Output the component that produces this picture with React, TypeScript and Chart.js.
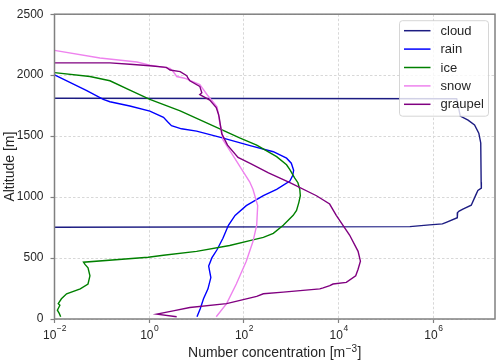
import React, { useEffect, useRef } from "react";
import { Chart, registerables } from "chart.js";

Chart.register(...registerables);

const FONT = '"Liberation Sans", Arial, sans-serif';

const seriesNames = ["cloud", "rain", "ice", "snow", "graupel"];
const seriesColors = ["#1c1c82", "#0000ff", "#008000", "#ee82ee", "#800080"];

// x ticks (log) and their exponent labels
const xTickValues = [1e-2, 1, 1e2, 1e4, 1e6];
const xTickExps = ["\u22122", "0", "2", "4", "6"];
const yTickStep = 500;

// cloud
const cloudAlt = [1810, 1806, 1664, 1631, 1591, 1524, 1444, 1121, 1073, 1054, 1014, 933, 901, 885, 873, 831, 793, 780, 772, 758, 752];
const cloudConc = [0.01, 3.1e6, 3.7e6, 5.4e6, 7.4e6, 9.1e6, 1.0e7, 1.02e7, 1.03e7, 8.7e6, 7.8e6, 6.3e6, 4.2e6, 3.5e6, 3.25e6, 3.2e6, 1.87e6, 1.55e6, 8.3e5, 3.2e5, 0.01];

// rain
const rainAlt = [2002, 1873, 1801, 1782, 1747, 1705, 1654, 1614, 1586, 1560, 1541, 1490, 1420, 1372, 1319, 1278, 1220, 1176, 1131, 1064, 1011, 930, 850, 769, 662, 568, 501, 434, 340, 247, 166, 86, 18];
const rainConc = [0.01, 0.048, 0.107, 0.148, 0.39, 1.03, 2.0, 2.5, 2.95, 4.8, 10, 32, 141, 417, 794, 1000, 1120, 1070, 933, 490, 257, 112, 65, 47, 36, 27, 21, 18, 20, 17.4, 14, 12, 10.2];

// ice
const iceAlt = [2021, 1989, 1954, 1878, 1801, 1707, 1560, 1485, 1426, 1332, 1265, 1225, 1158, 1118, 1064, 1011, 957, 890, 850, 769, 702, 670, 649, 603, 555, 523, 507, 466, 448, 420, 354, 287, 247, 207, 166, 126, 113, 72, 46, 18];
const iceConc = [0.01, 0.056, 0.148, 0.39, 1.03, 4.5, 31, 81, 186, 490, 794, 933, 1175, 1380, 1510, 1550, 1445, 1290, 1096, 676, 417, 257, 155, 50, 10, 2.0, 0.95, 0.041, 0.044, 0.051, 0.056, 0.051, 0.035, 0.018, 0.014, 0.012, 0.013, 0.0115, 0.0126, 0.0135];

// snow
const snowAlt = [2203, 2141, 2108, 2082, 2056, 2029, 2010, 1989, 1975, 1922, 1835, 1775, 1740, 1680, 1600, 1540, 1470, 1359, 1198, 1125, 1064, 930, 769, 635, 474, 287, 126, 18];
const snowConc = [0.01, 0.091, 0.55, 1.03, 2.75, 3.2, 3.5, 3.8, 5.6, 11.7, 17, 23, 27, 29, 31, 34, 36, 55, 100, 132, 155, 195, 186, 155, 112, 69, 43, 26];

// graupel
const graupelAlt = [2101, 2101, 2090, 2077, 2064, 2042, 2029, 1996, 1975, 1954, 1908, 1855, 1841, 1795, 1734, 1680, 1654, 1520, 1426, 1325, 1278, 1198, 1118, 1011, 943, 850, 689, 555, 474, 408, 354, 300, 287, 273, 255, 247, 220, 207, 185, 126, 94, 67, 40, 18];
const graupelConc = [0.01, 0.148, 0.39, 1.03, 2.3, 2.75, 4.5, 6.2, 6.6, 7.2, 11.7, 12.9, 11.7, 19, 26, 29, 30, 34, 45, 75, 132, 330, 933, 3400, 6450, 8900, 17000, 25700, 28800, 25700, 22900, 14500, 7600, 6500, 4700, 4000, 676, 257, 186, 43, 7.2, 3.2, 1.45, 3.8];

const seriesAlt = [cloudAlt, rainAlt, iceAlt, snowAlt, graupelAlt];
const seriesConc = [cloudConc, rainConc, iceConc, snowConc, graupelConc];

const TEXT = "#262626";
const SPINE = "#808080";

const framePlugin = {
  id: "frame",
  afterDatasetsDraw(chart: any) {
    const { ctx, chartArea: ca } = chart;
    ctx.save();
    ctx.strokeStyle = SPINE;
    ctx.lineWidth = 1.5;
    ctx.strokeRect(ca.left, ca.top, ca.right - ca.left, ca.bottom - ca.top);
    ctx.restore();
  },
};

const textPlugin = {
  id: "customText",
  afterDraw(chart: any) {
    const { ctx, chartArea: ca } = chart;
    const xs = chart.scales.x;
    ctx.save();
    ctx.fillStyle = TEXT;
    ctx.textBaseline = "alphabetic";
    ctx.textAlign = "left";
    // x tick labels 10^n
    xTickValues.forEach((v, i) => {
      const px = xs.getPixelForValue(v);
      ctx.font = `12px ${FONT}`;
      const wb = ctx.measureText("10").width;
      ctx.font = `8.5px ${FONT}`;
      const we = ctx.measureText(xTickExps[i]).width;
      const x0 = px - (wb + we) / 2;
      ctx.font = `12px ${FONT}`;
      ctx.fillText("10", x0, ca.bottom + 20);
      ctx.font = `8.5px ${FONT}`;
      ctx.fillText(xTickExps[i], x0 + wb + 0.5, ca.bottom + 11.5);
    });
    // x title
    const main = "Number concentration [m";
    const sup = "\u22123";
    const tail = "]";
    ctx.font = `14px ${FONT}`;
    const w1 = ctx.measureText(main).width;
    const w3 = ctx.measureText(tail).width;
    ctx.font = `10px ${FONT}`;
    const w2 = ctx.measureText(sup).width;
    const cx = (ca.left + ca.right) / 2;
    let x = cx - (w1 + w2 + w3 + 1) / 2;
    const by = ca.bottom + 37.5;
    ctx.font = `14px ${FONT}`;
    ctx.fillText(main, x, by);
    x += w1 + 0.5;
    ctx.font = `10px ${FONT}`;
    ctx.fillText(sup, x, by - 5);
    x += w2 + 0.5;
    ctx.font = `14px ${FONT}`;
    ctx.fillText(tail, x, by);
    // y title
    ctx.translate(14, (ca.top + ca.bottom) / 2);
    ctx.rotate(-Math.PI / 2);
    ctx.textAlign = "center";
    ctx.font = `14px ${FONT}`;
    ctx.fillText("Altitude [m]", 0, 0);
    ctx.restore();
  },
};

const legendPlugin = {
  id: "insideLegend",
  afterDraw(chart: any) {
    const { ctx, chartArea: ca } = chart;
    const w = 89;
    const h = 95.5;
    const x = ca.right - 6.5 - w;
    const y = ca.top + 6.5;
    ctx.save();
    ctx.beginPath();
    if ((ctx as any).roundRect) (ctx as any).roundRect(x, y, w, h, 3);
    else ctx.rect(x, y, w, h);
    ctx.fillStyle = "rgba(255,255,255,0.8)";
    ctx.fill();
    ctx.strokeStyle = "rgba(204,204,204,0.8)";
    ctx.lineWidth = 1;
    ctx.stroke();
    ctx.font = `13px ${FONT}`;
    ctx.textBaseline = "middle";
    ctx.textAlign = "left";
    seriesNames.forEach((name, i) => {
      const cy = y + 10 + i * 18.4;
      ctx.beginPath();
      ctx.strokeStyle = seriesColors[i];
      ctx.lineWidth = 1.5;
      ctx.moveTo(x + 4.5, cy);
      ctx.lineTo(x + 31, cy);
      ctx.stroke();
      ctx.fillStyle = TEXT;
      ctx.fillText(name, x + 41, cy + 0.5);
    });
    ctx.restore();
  },
};

export default function App() {
  const ref = useRef<HTMLCanvasElement | null>(null);
  useEffect(() => {
    if (!ref.current) return;
    const datasets = seriesNames.map((name, i) => ({
      label: name,
      data: seriesAlt[i].map((a, j) => ({ x: seriesConc[i][j], y: a })),
      borderColor: seriesColors[i],
      backgroundColor: seriesColors[i],
      borderWidth: 1.4,
      pointRadius: 0,
      showLine: true,
      tension: 0,
      fill: false,
      order: seriesNames.length - i,
    }));
    const gridCommon = {
      color: "#d8d8d8",
      lineWidth: 1,
      tickColor: SPINE,
      tickLength: 4,
      tickWidth: 1.2,
      tickBorderDash: [],
      drawTicks: true,
    };
    const chart = new Chart(ref.current, {
      type: "scatter",
      data: { datasets },
      plugins: [framePlugin, textPlugin, legendPlugin],
      options: {
        animation: false,
        responsive: false,
        devicePixelRatio: 1,
        layout: { padding: { top: 9, right: 5, left: 0, bottom: 0 } },
        plugins: {
          legend: { display: false },
          tooltip: { enabled: false },
        },
        scales: {
          x: {
            type: "logarithmic",
            min: 0.01,
            max: 2e7,
            bounds: "data",
            afterBuildTicks: (s: any) => {
              s.ticks = xTickValues.map((v) => ({ value: v }));
            },
            afterFit: (s: any) => {
              s.height = 45;
            },
            ticks: { display: false },
            grid: gridCommon,
            border: { display: false, dash: [2.5, 2] },
          },
          y: {
            type: "linear",
            min: 0,
            max: 2500,
            afterFit: (s: any) => {
              s.width = 54.5;
            },
            ticks: {
              stepSize: yTickStep,
              color: TEXT,
              padding: 7,
              font: { size: 12, family: FONT },
              callback: (v: any) => String(v),
            },
            grid: gridCommon,
            border: { display: false, dash: [2.5, 2] },
          },
        },
      } as any,
    });
    return () => chart.destroy();
  }, []);
  return (
    <div style={{ position: "fixed", left: 0, top: 0, width: 500, height: 364, background: "#fff" }}>
      <canvas ref={ref} width={500} height={364} style={{ width: 500, height: 364, display: "block" }} />
    </div>
  );
}
